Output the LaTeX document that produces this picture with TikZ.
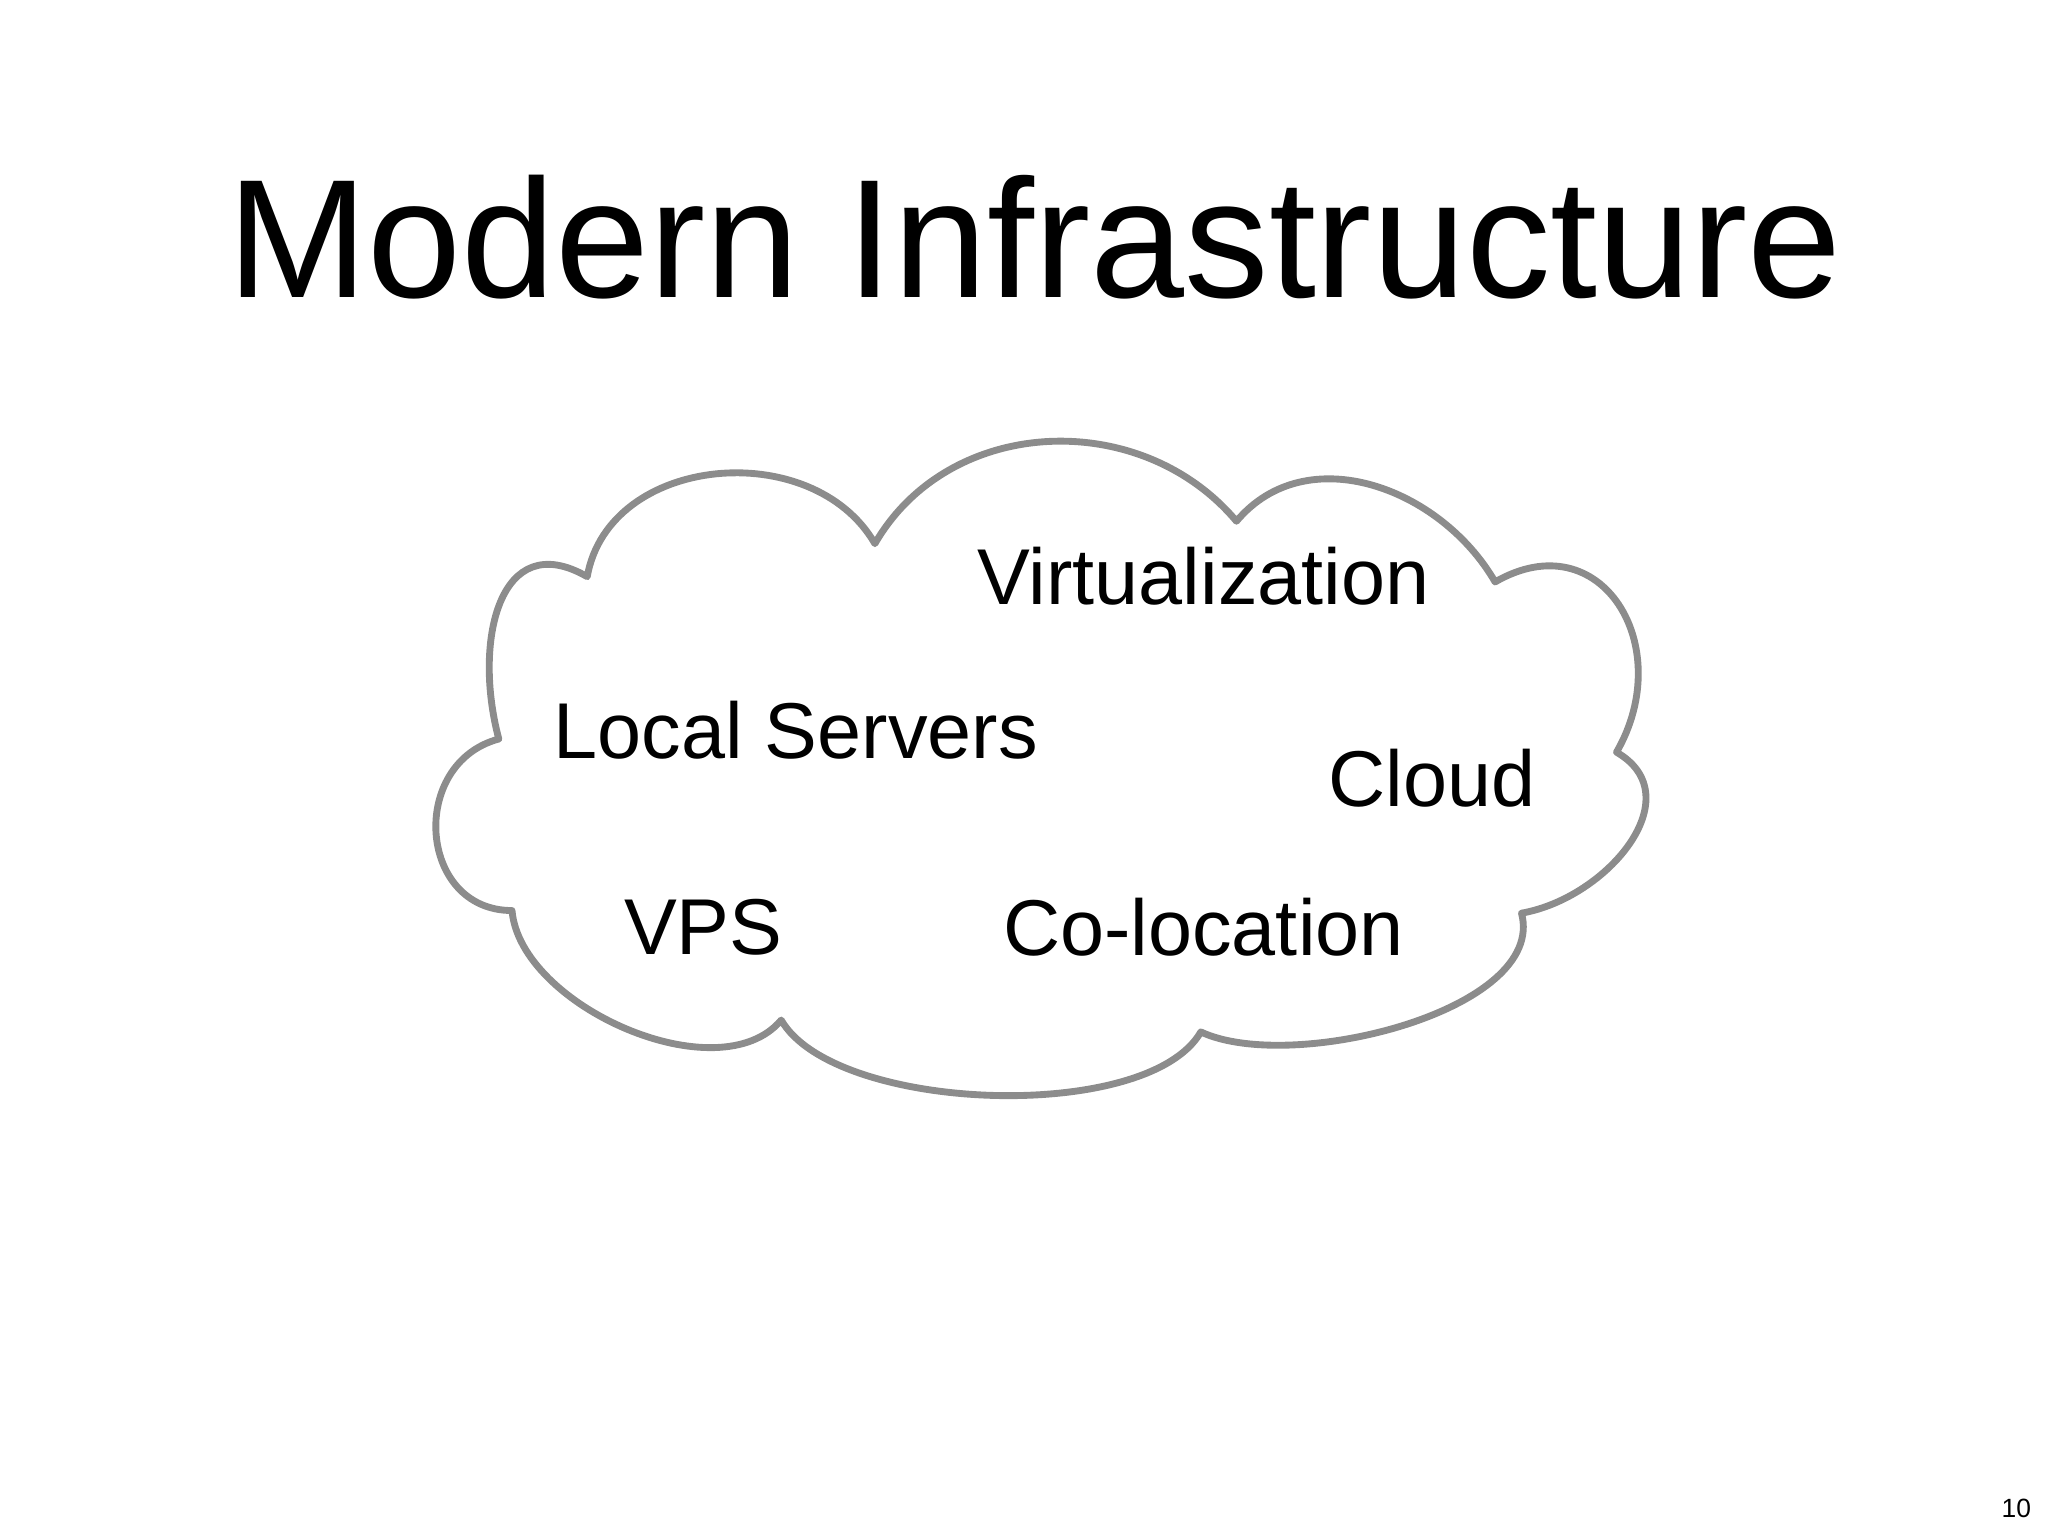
\documentclass[tikz,border=0pt]{standalone}
\usepackage{fontspec}
\setmainfont{Liberation Sans}
\begin{document}
\begin{tikzpicture}[x=0.5pt,y=-0.5pt,
  lbl/.style={font=\fontsize{30}{36}\selectfont,text=black},
  cloudline/.style={draw=black!45,line width=2.6pt,line join=round}]
\useasboundingbox (0,0) rectangle (1552,1164);
\node (title) at (784,180) {\fontsize{64}{76}\selectfont Modern Infrastructure};
\draw[cloudline] (378,560) to[out=105,in=150,looseness=1.4] (445,437)
  to[out=80,in=120,looseness=1.1] (663,412)
  to[out=60,in=130,looseness=1.05] (937,395)
  to[out=50,in=120,looseness=1.05] (1133,441)
  to[out=30,in=60,looseness=1.5] (1225,570)
  to[out=-30,in=10,looseness=1.2] (1153,692)
  to[out=-75,in=-25,looseness=0.75] (910,782)
  to[out=-120,in=-60,looseness=0.65] (592,773)
  to[out=-130,in=-85,looseness=0.85] (388,690)
  to[out=180,in=195,looseness=1.4] (378,560) -- cycle;
\node[lbl] (virt) at (912,437) {Virtualization};
\node[lbl] (local) at (603,553) {Local Servers};
\node[lbl] (cloud) at (1085,590) {Cloud};
\node[lbl] (vps) at (533,703) {VPS};
\node[lbl] (coloc) at (912,703) {Co-location};
\node (page) at (1528,1143) {\fontsize{10}{12}\selectfont 10};
\end{tikzpicture}
\end{document}
